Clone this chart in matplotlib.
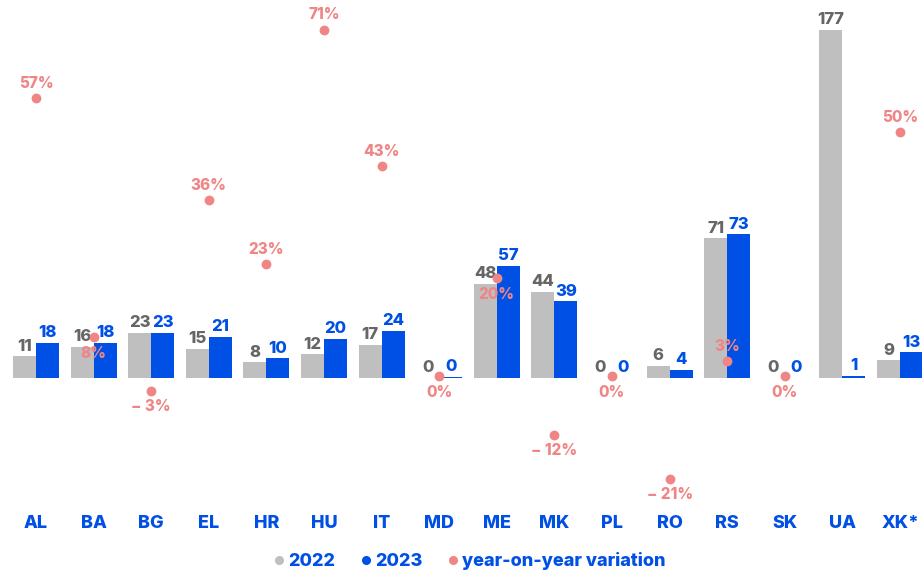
import numpy as np
import matplotlib as mpl
import matplotlib.pyplot as plt
from matplotlib.lines import Line2D

mpl.rcParams.update({
    "font.family": ["Inter", "DejaVu Sans"],
    "font.weight": "bold",
})

# data
countries = ["AL", "BA", "BG", "EL", "HR", "HU", "IT", "MD",
             "ME", "MK", "PL", "RO", "RS", "SK", "UA", "XK*"]
v2022 = [11, 16, 23, 15, 8, 12, 17, 0, 48, 44, 0, 6, 71, 0, 177, 9]
v2023 = [18, 18, 23, 21, 10, 20, 24, 0.4, 57, 39, 0, 4, 73, 0, 1, 13]
yoy = [57, 8, -3, 36, 23, 71, 43, 0, 20, -12, 0, -21, 3, 0, np.nan, 50]
# where the % label sits relative to its dot
yoy_pos = ["up", "down", "down", "up", "up", "up", "up", "down",
           "down", "down", "down", "down", "up", "down", "up", "up"]

GREY = "#bfbfbf"
BLUE = "#0050e6"
SALMON = "#f08585"
DARK = "#666666"

fig = plt.figure(figsize=(9.22, 5.71), dpi=100)
W, H = 922, 571
# axes box in pixels: left 7, top 10, bottom 505
ax = fig.add_axes([7.2 / W, (H - 505) / H, 915.8 / W, 495 / H])
ax2 = ax.twinx()

x = np.arange(len(countries))
bw = 0.4
ax.bar(x - bw / 2, v2022, bw, color=GREY, zorder=2)
ax.bar(x + bw / 2, v2023, bw, color=BLUE, zorder=2)

for xi, a, b in zip(x, v2022, v2023):
    ax.annotate(f"{a:.0f}", (xi - bw / 2, a), xytext=(0, 2), textcoords="offset points",
                ha="center", va="bottom", fontsize=12, color=DARK, fontweight=800)
    ax.annotate(f"{b:.0f}", (xi + bw / 2, b), xytext=(0, 2), textcoords="offset points",
                ha="center", va="bottom", fontsize=12, color=BLUE, fontweight=800)

ax.set_xlim(-0.5, 15.4)
ax.set_ylim(-64.6, 187.2)
ax2.set_ylim(-26.4, 75.0)

yoy_arr = np.array(yoy, dtype=float)
ax2.scatter(x, yoy_arr, s=50, color=SALMON, zorder=4, linewidths=0)
for xi, p, pos in zip(x, yoy_arr, yoy_pos):
    if np.isnan(p):
        continue
    txt = f"{p:.0f}%".replace("-", "\u2212 ")
    dy = 10.5 if pos == "up" else -11.5
    ax2.annotate(txt, (xi, p), xytext=(0, dy), textcoords="offset points",
                 ha="center", va="center", fontsize=11, color=SALMON,
                 fontweight=800)

for a in (ax, ax2):
    a.set_yticks([])
    for s in a.spines.values():
        s.set_visible(False)
ax.set_xticks([])

# country labels under the plot
for xi, c in zip(x, countries):
    ax.annotate(c, (xi, 0), xycoords=("data", "figure fraction"),
                xytext=(0, (H - 523) * 0.72), textcoords="offset points",
                ha="center", va="center", fontsize=13, color=BLUE, fontweight=800)

handles = [
    Line2D([], [], marker="o", ls="none", color=GREY, markersize=5.5),
    Line2D([], [], marker="o", ls="none", color=BLUE, markersize=5.5),
    Line2D([], [], marker="o", ls="none", color=SALMON, markersize=5.5),
]
leg = fig.legend(handles, ["2022", "2023", "year-on-year variation"],
                 loc="center", bbox_to_anchor=(468 / W, (H - 561) / H), ncol=3,
                 frameon=False, handletextpad=0.0, columnspacing=1.2,
                 handlelength=1.0, prop={"size": 13, "weight": 800})
for t in leg.get_texts():
    t.set_color(BLUE)

fig.savefig("out.png", dpi=100)
